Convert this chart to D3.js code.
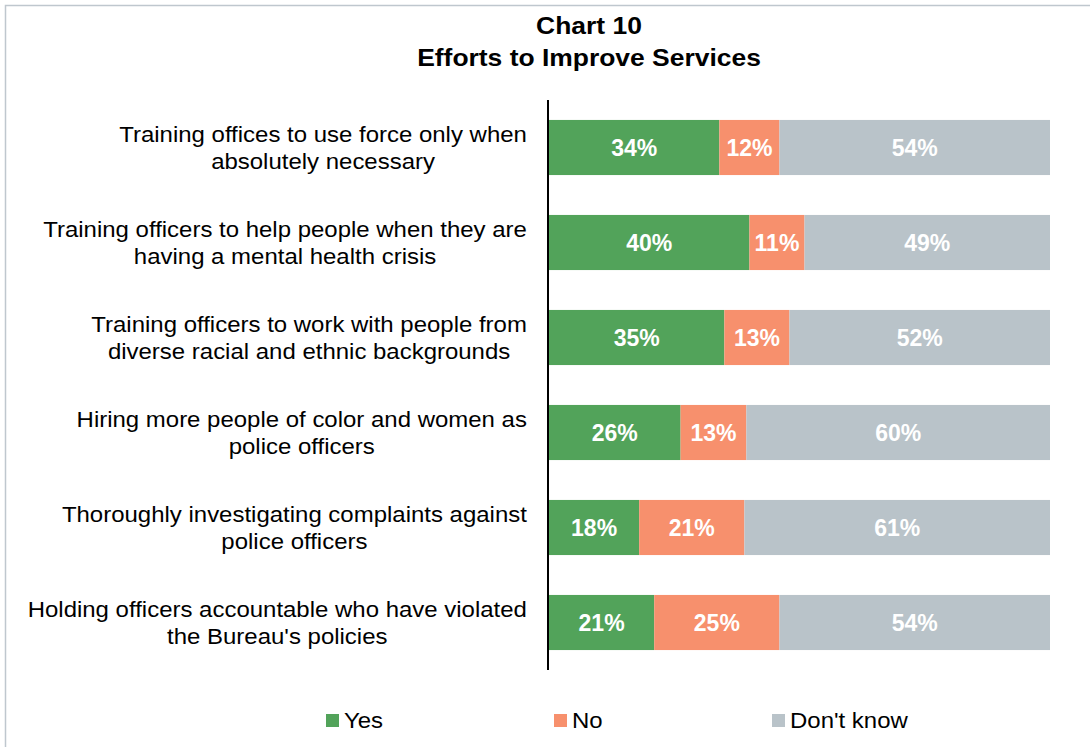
<!DOCTYPE html>
<html>
<head>
<meta charset="utf-8">
<script src="https://cdn.jsdelivr.net/npm/d3@7"></script>
<style>
  html, body { margin: 0; padding: 0; background: #fff; }
  svg { display: block; font-family: "Liberation Sans", Arial, sans-serif; }
</style>
</head>
<body>
<svg id="chart" width="1090" height="747"></svg>
<script>
// Survey items (two-line labels as shown on the category axis)
const categories = [
  ["Training offices to use force only when", "absolutely necessary"],
  ["Training officers to help people when they are", "having a mental health crisis"],
  ["Training officers to work with people from", "diverse racial and ethnic backgrounds"],
  ["Hiring more people of color and women as", "police officers"],
  ["Thoroughly investigating complaints against", "police officers"],
  ["Holding officers accountable who have violated", "the Bureau's policies"]
];
const seriesNames = ["Yes", "No", "Don't know"];
const yesValues = [34, 40, 35, 26, 18, 21];
const noValues = [12, 11, 13, 13, 21, 25];
const dontKnowValues = [54, 49, 52, 60, 61, 54];
const colors = ["#52A35A", "#F7906D", "#B9C3C9"];

const rows = categories.map((c, i) => ({
  key: i,
  "Yes": yesValues[i],
  "No": noValues[i],
  "Don't know": dontKnowValues[i]
}));

// text is set slightly wide, like the original report typeface
const TEXT_STRETCH = 1.09;

const svg = d3.select("#chart");

// outer chart frame
svg.append("rect")
  .attr("x", 5.5).attr("y", 5.5)
  .attr("width", 1200).attr("height", 900)
  .attr("fill", "none").attr("stroke", "#BFC7CE").attr("stroke-width", 1.5);

// title
const title = svg.append("text")
  .attr("text-anchor", "middle")
  .attr("transform", "translate(589,0) scale(1.15,1)")
  .attr("font-weight", "bold").attr("font-size", 23).attr("fill", "#000");
title.append("tspan").attr("x", 0).attr("y", 34).text("Chart 10");
title.append("tspan").attr("x", 0).attr("y", 66).text("Efforts to Improve Services");

// 100% stacked layout
const stack = d3.stack().keys(seriesNames).offset(d3.stackOffsetExpand);
const layers = stack(rows);

const x = d3.scaleLinear().domain([0, 1]).range([549, 1050]);
const y = d3.scaleBand()
  .domain(rows.map(r => r.key))
  .range([100, 670])
  .paddingInner(0.42)
  .paddingOuter(0.21);
const color = d3.scaleOrdinal().domain(seriesNames).range(colors);

const g = svg.append("g");
layers.forEach(layer => {
  const lg = g.append("g").attr("fill", color(layer.key));
  lg.selectAll("rect")
    .data(layer)
    .join("rect")
    .attr("x", d => x(d[0]))
    .attr("y", (d, i) => y(i))
    .attr("width", d => x(d[1]) - x(d[0]))
    .attr("height", y.bandwidth());
  g.append("g").selectAll("text")
    .data(layer)
    .join("text")
    .attr("x", d => (x(d[0]) + x(d[1])) / 2)
    .attr("y", (d, i) => y(i) + y.bandwidth() / 2)
    .attr("dy", "0.35em")
    .attr("text-anchor", "middle")
    .attr("font-weight", "bold").attr("font-size", 23)
    .attr("fill", "#fff")
    .text(d => d.data[layer.key] + "%");
});

// category axis line
svg.append("line")
  .attr("x1", 548).attr("x2", 548)
  .attr("y1", y.range()[0]).attr("y2", y.range()[1])
  .attr("stroke", "#000").attr("stroke-width", 2);

// category labels: right-aligned block, lines centred within it
const labelRight = 527;
categories.forEach((lines, i) => {
  const t = svg.append("text")
    .attr("font-size", 22).attr("fill", "#000").attr("text-anchor", "middle");
  const cy = y(i) + y.bandwidth() / 2;
  const spans = lines.map((ln, j) =>
    t.append("tspan").attr("x", 0)
      .attr("y", cy + (j - (lines.length - 1) / 2) * 27).attr("dy", "0.35em").text(ln));
  const maxW = d3.max(spans, s => s.node().getComputedTextLength()) * TEXT_STRETCH;
  t.attr("transform", `translate(${labelRight - maxW / 2},0) scale(${TEXT_STRETCH},1)`);
});

// legend
const legendX = [326, 554, 772];
const legend = svg.append("g");
seriesNames.forEach((name, i) => {
  legend.append("rect")
    .attr("x", legendX[i]).attr("y", 714)
    .attr("width", 13).attr("height", 13)
    .attr("fill", color(name));
  legend.append("text")
    .attr("transform", `translate(${legendX[i] + 18},0) scale(${TEXT_STRETCH},1)`)
    .attr("x", 0).attr("y", 720.5)
    .attr("dy", "0.35em")
    .attr("font-size", 22).attr("fill", "#000")
    .text(name);
});
</script>
</body>
</html>
